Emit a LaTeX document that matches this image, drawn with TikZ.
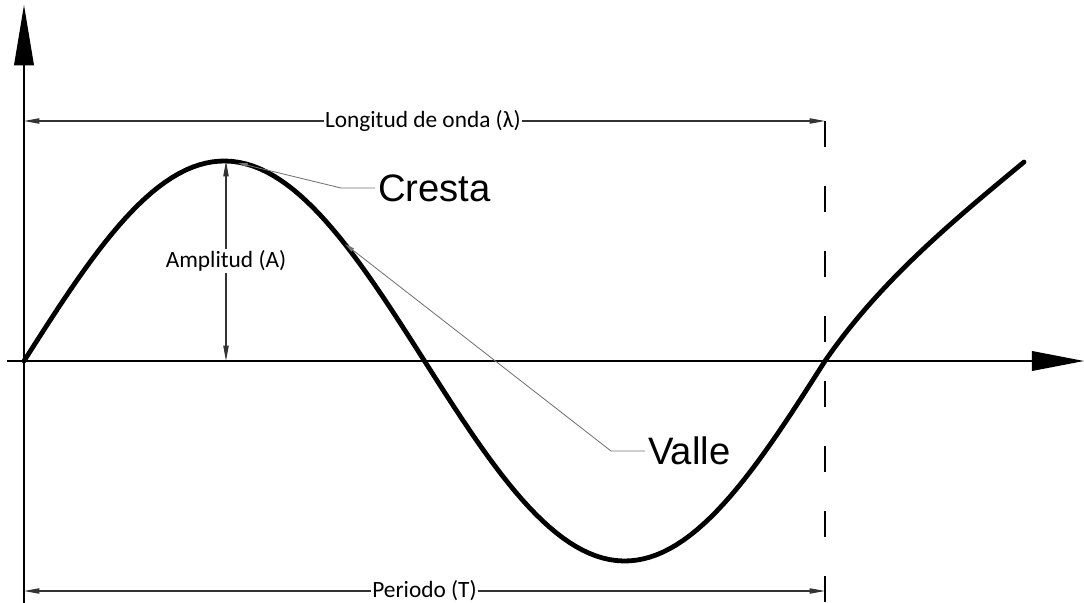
\documentclass[tikz,border=0pt]{standalone}
\usepackage{fontspec}
\setmainfont{Carlito}
\newfontfamily\arialfont{Liberation Sans}
\usetikzlibrary{arrows.meta}

\begin{document}
\begin{tikzpicture}[x=0.025cm,y=0.025cm,line join=round]
\tikzset{
    axis/.style={line width=1pt},
    dim/.style={draw=black!80, line width=0.75pt, {Triangle[length=11pt,width=3.8pt]}-{Triangle[length=11pt,width=3.8pt]}},
    wave/.style={line width=3.4pt, line cap=round},
    leader/.style={draw=black!55, line width=0.6pt, -{Triangle[length=7pt,width=2.8pt]}},
    dimlabel/.style={fill=white, inner xsep=0.6pt, inner ysep=1pt, font=\fontsize{16.6pt}{18pt}\selectfont},
    biglabel/.style={font=\arialfont\fontsize{27.2pt}{30pt}\selectfont, inner sep=2pt},
}
\useasboundingbox (-24,-242) rectangle (1060,361);
\coordinate (yBot) at (0,-242);
\coordinate (yTop) at (0,356);
\coordinate (xBeg) at (-17,0);
\coordinate (xEnd) at (1060,0);
\coordinate (lamL) at (0,240);
\coordinate (lamR) at (801,240);
\coordinate (perL) at (0,-230);
\coordinate (perR) at (801,-230);
\coordinate (dashBot) at (801,-242);
\coordinate (ampB) at (202,0);
\coordinate (ampT) at (202,200);
\coordinate (crestTip) at (214,198);
\coordinate (valleTip) at (321,117);
\draw[axis, -{Triangle[length=43pt,width=14pt]}] (yBot) -- (yTop);
\draw[axis, -{Triangle[length=37pt,width=14pt]}] (xBeg) -- (xEnd);
\draw[line width=0.8pt, dash pattern=on 0.65cm off 0.975cm] (lamR) -- (dashBot);
\draw[dim] (lamL) -- node[dimlabel, pos=0.498] {Longitud de onda (λ)} (lamR);
\draw[dim] (perL) -- node[dimlabel, pos=0.5] {Periodo (T)} (perR);
\draw[dim] (ampB) -- node[dimlabel] {Amplitud (A)} (ampT);
\draw[wave] plot[domain=0:801, samples=120] (\x,{200*sin(\x/801*360)}) .. controls (856,80) and (930,141) .. (1000,199);
\node[biglabel, anchor=west] (cresta) at (351,173) {Cresta};
\node[biglabel, anchor=west] (valle) at (621,-90) {Valle};
\draw[leader] (cresta.west) -- ++(-34,0) -- (crestTip);
\draw[leader] (valle.west) -- ++(-34,0) -- (valleTip);
\end{tikzpicture}
\end{document}
